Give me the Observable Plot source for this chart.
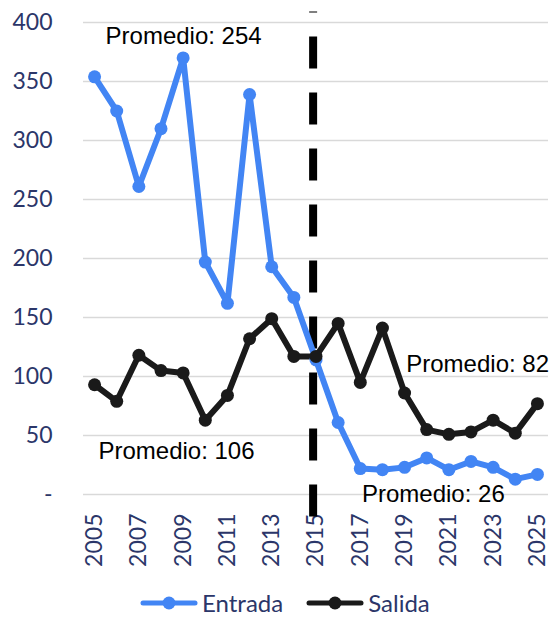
<!DOCTYPE html>
<html>
<head>
<meta charset="utf-8">
<script src="https://cdn.jsdelivr.net/npm/d3@7"></script>
<script src="https://cdn.jsdelivr.net/npm/@observablehq/plot@0.6"></script>
<style>
  html, body { margin: 0; padding: 0; background: #fff; }
  #chart svg { overflow: visible; display: block; }
  #legend { display: flex; justify-content: flex-start; align-items: center; height: 37px;
    padding-left: 140px; padding-top: 8px; box-sizing: border-box;
    font-family: Lato, sans-serif; font-size: 24px; color: #2b3669; }
  .item { display: flex; align-items: center; }
  .item svg { display: block; }
</style>
</head>
<body>
<div id="chart"></div>
<div id="legend"></div>
<script>
const years = [2005, 2006, 2007, 2008, 2009, 2010, 2011, 2012, 2013, 2014, 2015,
               2016, 2017, 2018, 2019, 2020, 2021, 2022, 2023, 2024, 2025];
const entrada = [354, 325, 261, 310, 370, 197, 162, 339, 193, 167, 114,
                 61, 22, 21, 23, 31, 21, 28, 23, 13, 17];
const salida = [93, 79, 118, 105, 103, 63, 84, 132, 149, 117, 117,
                145, 95, 141, 86, 55, 51, 53, 63, 52, 77];
const yTicks = [0, 50, 100, 150, 200, 250, 300, 350, 400];
const xTicks = [2005, 2007, 2009, 2011, 2013, 2015, 2017, 2019, 2021, 2023, 2025];
const seriesNames = ["Entrada", "Salida"];
const seriesColors = ["#4285f4", "#1a1a1a"];
const annotations = [
  {x: 2009.02, y: 382, text: "Promedio: 254"},
  {x: 2008.7, y: 30, text: "Promedio: 106"},
  {x: 2022.3, y: 104, text: "Promedio: 82"},
  {x: 2020.3, y: -6, text: "Promedio: 26"}
];
const breakYear = 2014.87;

const rows = [];
years.forEach((yr, i) => {
  rows.push({year: yr, value: entrada[i], serie: seriesNames[0]});
  rows.push({year: yr, value: salida[i], serie: seriesNames[1]});
});

const axisColor = "#2b3669";
const chart = Plot.plot({
  width: 551,
  height: 580,
  marginTop: 22,
  marginBottom: 86,
  marginLeft: 83,
  marginRight: 3,
  style: {fontFamily: "Lato, sans-serif", fontSize: "23px", background: "#fff", overflow: "visible"},
  x: {domain: [2004.5, 2025.5], label: null},
  y: {domain: [0, 400], label: null},
  color: {domain: seriesNames, range: seriesColors},
  marks: [
    Plot.ruleY(yTicks, {stroke: "#d9d9d9", strokeWidth: 1.5}),
    Plot.axisY({ticks: yTicks, tickSize: 0, tickPadding: 31, label: null,
      tickFormat: d => d === 0 ? "-" : String(d), fill: axisColor, fontSize: 23}),
    Plot.axisX({ticks: xTicks, tickSize: 0, tickPadding: 19, tickRotate: -90, label: null,
      tickFormat: d => String(d), fill: axisColor, fontSize: 23}),
    Plot.ruleX([breakYear], {y1: -19, y2: 409, stroke: "#000", strokeWidth: 8, strokeDasharray: "32,24"}),
    Plot.line(rows, {x: "year", y: "value", z: "serie", stroke: "serie", strokeWidth: 6}),
    Plot.dot(rows, {x: "year", y: "value", fill: "serie", r: 6.5, stroke: null}),
    Plot.text(annotations, {x: "x", y: "y", text: "text", textAnchor: "middle", lineAnchor: "bottom",
      fontFamily: "'Liberation Sans', Arial, sans-serif", fontSize: 24, fill: "#000"})
  ]
});
document.getElementById("chart").appendChild(chart);

const legend = document.getElementById("legend");
seriesNames.forEach((name, i) => {
  const item = document.createElement("div");
  item.className = "item";
  item.style.marginRight = i === 0 ? "23px" : "0";
  item.innerHTML = `<svg width="58" height="16"><line x1="3" x2="55" y1="8" y2="8" stroke="${seriesColors[i]}" stroke-width="5" stroke-linecap="round"/><circle cx="29" cy="8" r="6.5" fill="${seriesColors[i]}"/></svg><span style="margin-left:4px">${name}</span>`;
  legend.appendChild(item);
});
</script>
</body>
</html>
